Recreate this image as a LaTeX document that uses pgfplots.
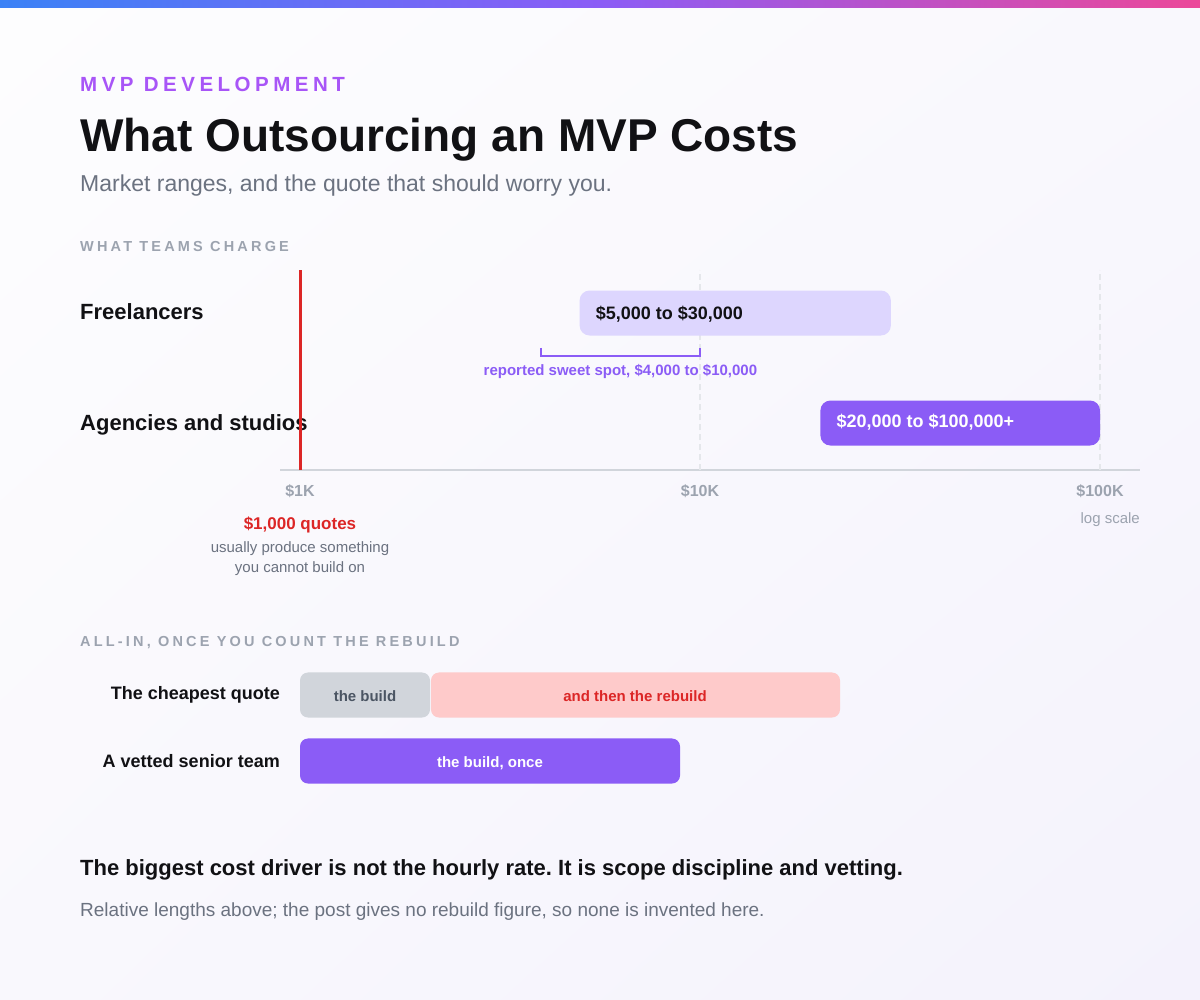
\documentclass[border=0pt]{standalone}
\usepackage{fontspec}
\setmainfont{Liberation Sans}
\newfontfamily\spaced[LetterSpace=22]{Liberation Sans}
\usepackage{pgfplots}
\pgfplotsset{compat=1.18}
\usetikzlibrary{shadings}

\definecolor{bgA}{HTML}{FDFDFE}
\definecolor{bgB}{HTML}{F9F8FD}
\definecolor{bgC}{HTML}{F4F2FC}
\definecolor{stripA}{HTML}{3B82F6}
\definecolor{stripB}{HTML}{8B5CF6}
\definecolor{stripC}{HTML}{EC4899}
\definecolor{kicker}{HTML}{A855F7}
\definecolor{ink}{HTML}{111114}
\definecolor{gray300}{HTML}{D1D5DB}
\definecolor{gray400}{HTML}{9CA3AF}
\definecolor{gray500}{HTML}{6B7280}
\definecolor{gray600}{HTML}{4B5563}
\definecolor{gridc}{HTML}{E5E7EB}
\definecolor{violet200}{HTML}{DDD6FE}
\definecolor{violet500}{HTML}{8B5CF6}
\definecolor{red200}{HTML}{FECACA}
\definecolor{red600}{HTML}{DC2626}

\newcommand\fs[1]{\fontsize{#1}{#1}\selectfont}
\frenchspacing

\begin{document}
\begin{tikzpicture}[x=1pt,y=1pt]
% page background and top strip
\shade[upper left=bgA, upper right=bgB, lower left=bgB, lower right=bgC] (0,0) rectangle (1200,-1000);
\shade[left color=stripA, right color=stripB] (0,0) rectangle (600.5,-8);
\shade[left color=stripB, right color=stripC] (600,0) rectangle (1200,-8);

% header
\node[anchor=base west, inner sep=0, text=kicker, font=\spaced\bfseries\fs{20.5}] at (80,-92) {MVP DEVELOPMENT};
\node[anchor=base west, inner sep=0, text=ink, font=\bfseries\fs{46}] at (80,-152) {What Outsourcing an MVP Costs};
\node[anchor=base west, inner sep=0, text=gray500, font=\fs{23}] at (80,-192) {Market ranges, and the quote that should worry you.};

% section 1 labels
\node[anchor=base west, inner sep=0, text=gray400, font=\spaced\bfseries\fs{14.5}] at (80,-252) {WHAT TEAMS CHARGE};
\node[anchor=base west, inner sep=0, text=ink, font=\bfseries\fs{22}] at (80,-320) {Freelancers};
\node[anchor=base west, inner sep=0, text=ink, font=\bfseries\fs{22}] at (80,-430) {Agencies and studios};
\node[anchor=base, inner sep=0, text=red600, font=\bfseries\fs{17}] at (300,-529) {\$1,000 quotes};
\node[anchor=base, inner sep=0, text=gray500, font=\fs{15}] at (300,-552) {usually produce something};
\node[anchor=base, inner sep=0, text=gray500, font=\fs{15}] at (300,-572) {you cannot build on};
\node[anchor=base east, inner sep=0, text=gray400, font=\fs{15}] at (1140,-523) {log scale};

% section 2 heading and footer
\node[anchor=base west, inner sep=0, text=gray400, font=\spaced\bfseries\fs{14.5}] at (80,-646) {ALL-IN, ONCE YOU COUNT THE REBUILD};
\node[anchor=base west, inner sep=0, text=ink, font=\bfseries\fs{22}] at (80,-875) {The biggest cost driver is not the hourly rate. It is scope discipline and vetting.};
\node[anchor=base west, inner sep=0, text=gray500, font=\fs{19}] at (80,-916) {Relative lengths above; the post gives no rebuild figure, so none is invented here.};

% price ranges, log scale
\begin{axis}[
  scale only axis, width=860pt, height=200pt,
  at={(280pt,-470pt)}, anchor=south west,
  xmode=log, xmin=891.25, xmax=125892.5,
  ymin=-0.427, ymax=1.391,
  axis y line=none, axis x line*=bottom,
  x axis line style={draw=gray300, line width=2pt, -},
  xtick={1000,10000,100000}, xticklabels={\$1K,\$10K,\$100K},
  minor xtick={}, xtick style={draw=none}, major tick length=0pt,
  xticklabel style={font=\bfseries\fs{16}, text=gray400, anchor=base, yshift=-26pt},
  clip=false,
]
\addplot[gridc, line width=1.2pt, dash pattern=on 6pt off 4pt] coordinates {(10000,-0.427) (10000,1.391)};
\addplot[gridc, line width=1.2pt, dash pattern=on 6pt off 4pt] coordinates {(100000,-0.427) (100000,1.391)};
% freelancers 5k-30k, agencies 20k-100k
\addplot[fill=violet200, draw=none, rounded corners=10pt] coordinates {(5000,0.7955) (30000,0.7955) (30000,1.2045) (5000,1.2045)} -- cycle;
\addplot[fill=violet500, draw=none, rounded corners=10pt] coordinates {(20000,-0.2045) (100000,-0.2045) (100000,0.2045) (20000,0.2045)} -- cycle;
% sweet spot 4k-10k
\addplot[violet500, line width=2pt] coordinates {(4000,0.682) (4000,0.609) (10000,0.609) (10000,0.682)};
\addplot[red600, line width=3pt] coordinates {(1000,-0.427) (1000,1.391)};
\node[anchor=base west, inner sep=0, xshift=16pt, text=ink, font=\bfseries\fs{18}] at (axis cs:5000,0.945) {\$5,000 to \$30,000};
\node[anchor=base west, inner sep=0, xshift=16pt, text=white, font=\bfseries\fs{18}] at (axis cs:20000,-0.045) {\$20,000 to \$100,000+};
\node[anchor=base, inner sep=0, text=violet500, font=\bfseries\fs{15}] at (axis cs:6325,0.436) {reported sweet spot, \$4,000 to \$10,000};
\end{axis}

% all-in comparison, relative lengths
\begin{axis}[
  scale only axis, width=540pt, height=132pt,
  at={(300pt,-794pt)}, anchor=south west,
  xmin=0, xmax=54, ymin=-0.5, ymax=1.5,
  axis x line=none, axis y line*=left,
  y axis line style={draw=none},
  ytick={0,1}, yticklabels={A vetted senior team,The cheapest quote},
  ytick style={draw=none}, major tick length=0pt,
  yticklabel style={font=\bfseries\fs{18}, text=ink, anchor=east, inner sep=0pt, xshift=-20pt},
  clip=false,
]
\addplot[fill=gray300, draw=none, rounded corners=8pt] coordinates {(0,0.659) (13,0.659) (13,1.341) (0,1.341)} -- cycle;
\addplot[fill=red200, draw=none, rounded corners=8pt] coordinates {(13.1,0.659) (54,0.659) (54,1.341) (13.1,1.341)} -- cycle;
\addplot[fill=violet500, draw=none, rounded corners=8pt] coordinates {(0,-0.341) (38,-0.341) (38,0.341) (0,0.341)} -- cycle;
\node[anchor=base, inner sep=0, text=gray600, font=\bfseries\fs{15}] at (axis cs:6.5,0.909) {the build};
\node[anchor=base, inner sep=0, text=red600, font=\bfseries\fs{15}] at (axis cs:33.5,0.909) {and then the rebuild};
\node[anchor=base, inner sep=0, text=white, font=\bfseries\fs{15}] at (axis cs:19,-0.091) {the build, once};
\end{axis}
\end{tikzpicture}
\end{document}
